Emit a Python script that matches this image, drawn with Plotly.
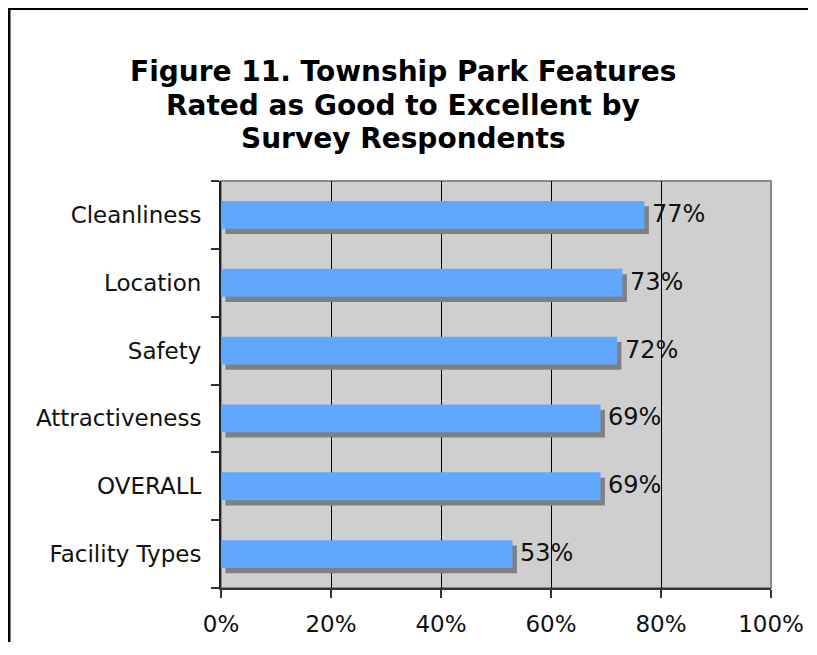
import plotly.graph_objects as go

# Data (bottom to top)
categories = ["Facility Types", "OVERALL", "Attractiveness", "Safety", "Location", "Cleanliness"]
values = [53, 69, 69, 72, 73, 77]
value_labels = ["53%", "69%", "69%", "72%", "73%", "77%"]
x_ticks = [0, 20, 40, 60, 80, 100]
x_tick_labels = ["0%", "20%", "40%", "60%", "80%", "100%"]
title_lines = ["Figure 11. Township Park Features",
               "Rated as Good to Excellent by",
               "Survey Respondents"]

W, H = 800, 634
L, R, T, B = 213, 37, 173, 54
pw, ph = W - L - R, H - T - B

def px_x(px):
    return (px - L) / pw

def px_y(py):
    return (H - B - py) / ph

FONT = "DejaVu Sans"
shadow_dx = 0.8  # in axis % units

fig = go.Figure()
# shadow
fig.add_trace(go.Bar(
    y=categories, x=values, base=[shadow_dx] * len(values), orientation="h",
    width=0.41, offset=-0.205 - 0.078,
    marker=dict(color="#808080", line=dict(width=0)),
    hoverinfo="skip", showlegend=False,
))
# main bars
fig.add_trace(go.Bar(
    y=categories, x=values, orientation="h",
    width=0.41, offset=-0.205,
    marker=dict(color="#60A8FF", line=dict(width=0)),
    showlegend=False,
))

annotations = []
for c, v, t in zip(categories, values, value_labels):
    annotations.append(dict(
        x=v + shadow_dx, y=c, xref="x", yref="y", text=t, showarrow=False,
        xanchor="left", yanchor="middle", xshift=1.5, yshift=1,
        font=dict(family=FONT, size=24, color="#111111"),
    ))

for line, py in zip(title_lines, [64, 97.5, 130]):
    annotations.append(dict(
        x=px_x(395), y=px_y(py), xref="paper", yref="paper", text="<b>" + line + "</b>",
        showarrow=False, xanchor="center", yanchor="middle",
        font=dict(family=FONT, size=28, color="#000000"),
    ))

shapes = [
    # plot border (gray)
    dict(type="rect", xref="paper", yref="paper", x0=0, x1=1, y0=0, y1=1,
         line=dict(color="#888888", width=2), layer="below"),
    # outer frame: left and top edges
    dict(type="line", xref="paper", yref="paper",
         x0=px_x(1), x1=px_x(1), y0=px_y(H), y1=px_y(-1),
         line=dict(color="#000000", width=3)),
    dict(type="line", xref="paper", yref="paper",
         x0=px_x(-1), x1=px_x(W), y0=px_y(0.5), y1=px_y(0.5),
         line=dict(color="#000000", width=3)),
]

fig.update_layout(
    width=W, height=H,
    margin=dict(l=L, r=R, t=T, b=B, pad=0, autoexpand=False),
    paper_bgcolor="white",
    plot_bgcolor="#CFCFCF",
    barmode="overlay",
    showlegend=False,
    annotations=annotations,
    shapes=shapes,
    font=dict(family=FONT, size=23, color="#111111"),
    xaxis=dict(
        range=[0, 100], tickvals=x_ticks, ticktext=x_tick_labels,
        showgrid=True, gridcolor="#000000", gridwidth=1,
        ticks="outside", ticklen=8, tickcolor="#333333", tickwidth=1.5,
        showline=True, linecolor="#333333", linewidth=2,
        zeroline=False, fixedrange=True, automargin=False,
        ticklabeloverflow="allow",
        ticklabelstandoff=6,
        tickfont=dict(family=FONT, size=23, color="#111111"),
    ),
    yaxis=dict(
        type="category", categoryorder="array", categoryarray=categories,
        range=[-0.5, 5.5], automargin=False,
        tickson="boundaries", ticks="outside", ticklen=8, tickcolor="#333333", tickwidth=1.5,
        showline=True, linecolor="#222222", linewidth=2,
        showgrid=False, zeroline=False,
        ticklabelstandoff=13,
        tickfont=dict(family=FONT, size=23, color="#111111"),
    ),
)

fig.write_html("out.html")
